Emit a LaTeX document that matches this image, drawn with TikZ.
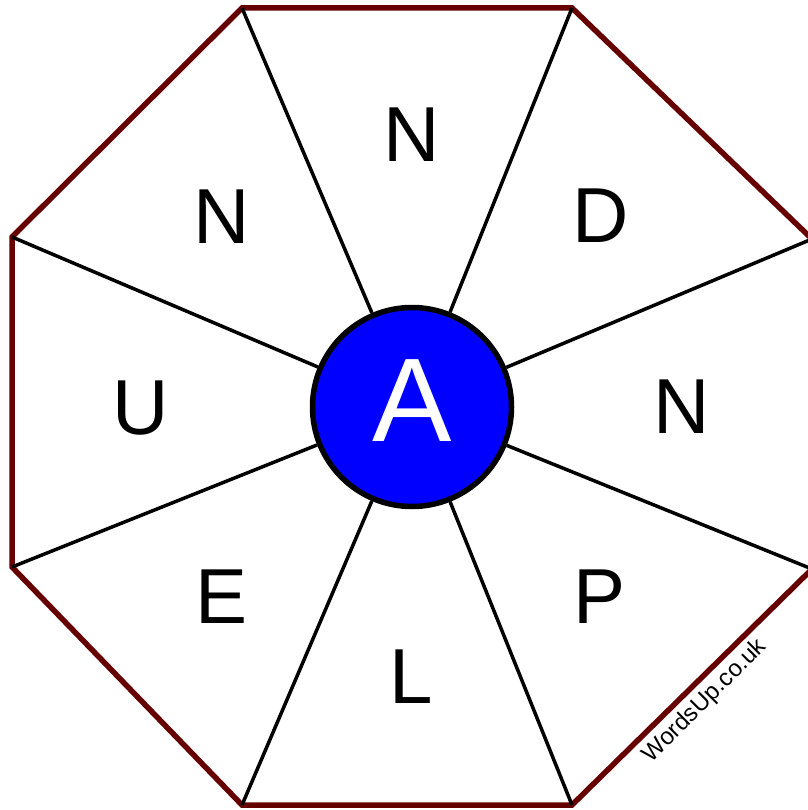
\documentclass[tikz,border=0pt]{standalone}
\usepackage{fontspec}
\setmainfont{Liberation Sans}
\usepackage{xcolor}
\usepackage{tikz}
\usetikzlibrary{positioning, calc}

\definecolor{rimred}{HTML}{660000}
\definecolor{hubblue}{HTML}{0000FF}

\begin{document}
\begin{tikzpicture}[
    x=1pt, y=-1pt,
    rim/.style={draw=rimred, line width=5.5pt, line join=miter},
    spoke/.style={draw=black, line width=3.5pt},
    hub/.style={circle, draw=black, line width=5.5pt, fill=hubblue, minimum size=199pt, inner sep=0pt, text=white, text depth=12pt, font=\fontsize{119}{119}\selectfont},
    letter/.style={inner sep=0pt, font=\fontsize{78}{78}\selectfont},
    credit/.style={inner sep=0pt, rotate=45, font=\fontsize{24}{24}\selectfont}
]
\useasboundingbox (0,0) rectangle (807,810);

% octagon corners
\coordinate (v1) at (242,8);
\coordinate (v2) at (572,8);
\coordinate (v3) at (812,239);
\coordinate (v4) at (812,569);
\coordinate (v5) at (572,805);
\coordinate (v6) at (242,805);
\coordinate (v7) at (12,567);
\coordinate (v8) at (12,237);

\draw[rim] (v1) -- (v2) -- (v3) -- (v4) -- (v5) -- (v6) -- (v7) -- (v8) -- cycle;

\node[hub] (centre) at (412,407) {A};

\draw[spoke] (v1) -- (centre);
\draw[spoke] (v2) -- (centre);
\draw[spoke] (v3) -- (centre);
\draw[spoke] (v4) -- (centre);
\draw[spoke] (v5) -- (centre);
\draw[spoke] (v6) -- (centre);
\draw[spoke] (v7) -- (centre);
\draw[spoke] (v8) -- (centre);

\node[letter] (top) at (412,135) {N};
\node[letter] (topright) at (601,216) {D};
\node[letter] (right) at (682,407) {N};
\node[letter] (botright) at (600,597) {P};
\node[letter] (bottom) at (411,677) {L};
\node[letter] (botleft) at (222,597) {E};
\node[letter] (left) at (141,408) {U};
\node[letter] (topleft) at (222,217) {N};

\node[credit] (site) at (705,701) {WordsUp.co.uk};
\end{tikzpicture}
\end{document}
